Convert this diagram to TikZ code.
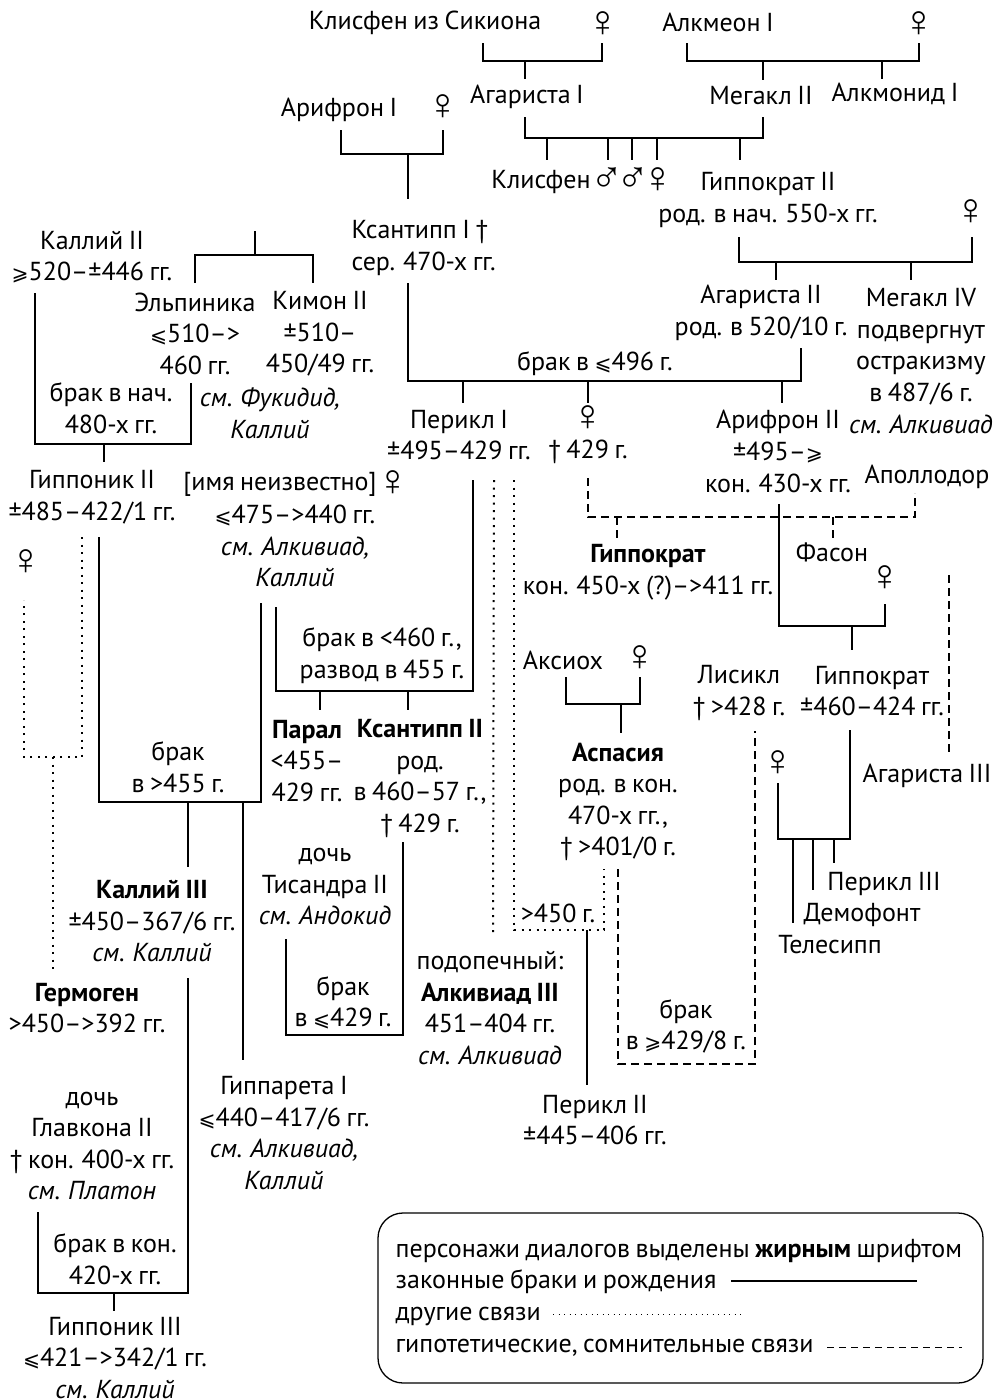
\documentclass[tikz,border=0pt]{standalone}
\usepackage{fontspec}
\setmainfont[WordSpace=0.8]{PT Sans}
\newfontfamily\symf[Scale=1.7]{Liberation Sans}
\newfontfamily\slf[Scale=0.78]{DejaVu Sans}
\newcommand{\fem}{{\symf ♀}}
\newcommand{\mal}{{\symf ♂}}
\newcommand{\lesl}{{\slf ⩽}}
\newcommand{\gesl}{{\slf ⩾}}
\tikzset{
    txt/.style={inner sep=0pt, align=center, font=\fontsize{26}{31.6}\selectfont},
    other/.style={line width=2pt, dash pattern=on 2pt off 5.5pt},
    doubt/.style={dash pattern=on 8pt off 5pt}
}

\begin{document}
\begin{tikzpicture}[x=1pt,y=-1pt,line width=1.3pt]
    \useasboundingbox (0,0) rectangle (996,1400);
    % top rows
    \node[txt] (klisS) at (425,23) {Клисфен из Сикиона};
    \node[txt] (klisF) at (603,24) {\fem};
    \node[txt] (alkmS) at (718,22) {Алкмеон I};
    \node[txt] (alkmF) at (919,24) {\fem};
    \node[txt] (agar1) at (527,97) {Агариста I};
    \node[txt] (meg2) at (761,96) {Мегакл II};
    \node[txt] (almd) at (895,94) {Алкмонид I};
    \node[txt] (arif1) at (339,110) {Арифрон I};
    \node[txt] (arifF) at (443,107) {\fem};
    \node[txt] (klis) at (541,182) {Клисфен};
    \node[txt] (sonA) at (607,180) {\mal};
    \node[txt] (sonB) at (633,180) {\mal};
    \node[txt] (dauA) at (658,180) {\fem};
    \node[txt] (hip2) at (768,200) {Гиппократ II\\род. в нач. 550-х гг.};
    \node[txt] (hip2F) at (971,212) {\fem};
    \node[txt,align=left,anchor=west] (ksa1) at (351,248) {Ксантипп I †\\сер. 470-х гг.};
    \node[txt] (kal2) at (92,257) {Каллий II\\\gesl520–±446 гг.};
    \node[txt] (elp) at (195,333.5) {Эльпиника\\\lesl510–>\\460 гг.};
    \node[txt] (kim) at (320,334) {Кимон II\\±510–\\450/49 гг.};
    \node[txt] (seeA) at (270,413) {\itshape см. Фукидид,\\\itshape Каллий};
    \node[txt] (marA) at (111,408) {брак в нач.\\480-х гг.};
    \node[txt] (agar2) at (761,313) {Агариста II\\род. в 520/10 г.};
    \node[txt] (meg4) at (921,361) {Мегакл IV\\подвергнут\\остракизму\\в 487/6 г.\\\itshape см. Алкивиад};
    \node[txt] (marB) at (595,364) {брак в \lesl496 г.};
    \node[txt] (peri1) at (459,435) {Перикл I\\±495–429 гг.};
    \node[txt] (dauB) at (588,418) {\fem};
    \node[txt] (deaB) at (588,452) {† 429 г.};
    \node[txt] (arif2) at (778,451.5) {Арифрон II\\±495–\gesl\\кон. 430-х гг.};
    \node[txt] (apol) at (927,477) {Аполлодор};
    \node[txt] (hipn2) at (92,497.5) {Гиппоник II\\±485–422/1 гг.};
    \node[txt] (unkn) at (280,484) {[имя неизвестно]};
    \node[txt] (unknF) at (393,483) {\fem};
    \node[txt] (unknD) at (295,546) {\lesl475–>440 гг.\\\itshape см. Алкивиад,\\\itshape Каллий};
    \node[txt] (hipnF) at (26,562) {\fem};
    \node[txt] (hipk) at (648,572) {\bfseries Гиппократ\\кон. 450-х (?)–>411 гг.};
    \node[txt] (fas) at (832,552) {Фасон};
    \node[txt] (fasF) at (885,578) {\fem};
    \node[txt] (marC) at (382,655.5) {брак в <460 г.,\\развод в 455 г.};
    \node[txt] (aks) at (563,660) {Аксиох};
    \node[txt] (aksF) at (640,658) {\fem};
    \node[txt] (lis) at (739,693) {Лисикл\\† >428 г.};
    \node[txt] (hip3) at (872,691) {Гиппократ\\±460–424 гг.};
    % middle
    \node[txt] (par) at (307,761) {\bfseries Парал\\<455–\\429 гг.};
    \node[txt] (ksa2) at (420,778.5) {\bfseries Ксантипп II\\род.\\в 460–57 г.,\\† 429 г.};
    \node[txt] (asp) at (618,802) {\bfseries Аспасия\\род. в кон.\\470-х гг.,\\† >401/0 г.};
    \node[txt] (marD) at (178,767.5) {брак\\в >455 г.};
    \node[txt] (hip3F) at (778,763) {\fem};
    \node[txt] (agar3) at (927,776) {Агариста III};
    \node[txt] (peri3) at (884,884) {Перикл III};
    \node[txt] (dem) at (862,915) {Демофонт};
    \node[txt] (tel) at (830,945) {Телесипп};
    \node[txt] (tis) at (325,886.5) {дочь\\Тисандра II\\\itshape см. Андокид};
    \node[txt] (kal3) at (152,921) {\bfseries Каллий III\\±450–367/6 гг.\\\itshape см. Каллий};
    \node[txt] (marE) at (558,913) {>450 г.};
    \node[txt] (alk) at (490,1008) {подопечный:\\\bfseries Алкивиад III\\451–404 гг.\\\itshape см. Алкивиад};
    \node[txt] (marF) at (343,1003) {брак\\в \lesl429 г.};
    \node[txt] (herm) at (87,1008) {\bfseries Гермоген\\>450–>392 гг.};
    \node[txt] (marG) at (686,1026.5) {брак\\в \gesl429/8 г.};
    % bottom
    \node[txt] (glav) at (92,1146) {дочь\\Главкона II\\† кон. 400-х гг.\\\itshape см. Платон};
    \node[txt] (hipr) at (284,1133) {Гиппарета I\\\lesl440–417/6 гг.\\\itshape см. Алкивиад,\\\itshape Каллий};
    \node[txt] (peri2) at (595,1120) {Перикл II\\±445–406 гг.};
    \node[txt] (marH) at (115,1259) {брак в кон.\\420-х гг.};
    \node[txt] (hipn3) at (115,1358) {Гиппоник III\\\lesl421–>342/1 гг.\\\itshape см. Каллий};

    % ends of the connectors
    \foreach \n/\x/\y in {aL/483/43,aR/602/43,aJ/525/61,aC/525/79,
        bL/687/43,bR/919/43,bJ/763/61,bC/763/80,bD/882/79,
        cL/525/117,cR/763/117,cJ/740/138,
        dL/341/130,dR/443/130,dJ/408/154,dC/408/199,
        eL/408/283,eR/801/348,eJ/588/381,
        fL/739/237,fR/972/237,fJ/776/262,fC/776/280,fD/911/280,
        gT/255/231,gJ/255/255,gL/195/283,gR/313/283,
        hL/35/293,hR/191/383,hJ/104/444,hC/104/462,
        iL/99/537,iR/261/603,iJ/188/802,iC/188/867,iD/243/1060,
        jL/276/607,jR/473/480,jJ/320/691,jC/320/710,jD/408/710,
        kL/566/677,kR/640/677,kJ/621/704,kC/621/733,
        lL/779/504,lR/885/604,lJ/852/626,lC/852/650,
        mL/778/783,mR/850/730,mJ/813/839,mA/834/863,mB/813/890,mC/793/923,
        nL/286/939,nR/403/842,nJ/340/1035,
        oL/38/1212,oR/188/978,oJ/114/1293,oC/114/1311,
        pT/82/537,pL/24/600,pJ/53/757,pC/53/970,
        qA/494/480,qB/493/933,rA/514/480,rB/604/869,rJ/587/930,rC/587/1085,
        sL/588/478,sR/915/493,sJ/617/517,sC/617/538,sD/833/538,
        uL/618/869,uR/755/731,uJ/686/1064,vA/949/575,vB/949/755}
        \coordinate (\n) at (\x,\y);

    \draw (aL) |- (aJ) -| (aR) (aJ) -- (aC);
    \draw (bL) |- (bJ) -| (bR) (bJ) -- (bC) (bD |- bJ) -- (bD);
    \draw (cL) |- (cJ) -| (cR);
    \foreach \x in {547,608,632,657,740}
        \draw (\x,138) -- (\x,160);
    \draw (dL) |- (dJ) -| (dR) (dJ) -- (dC);
    \draw (eL) |- (eJ) -| (eR);
    \foreach \x in {463,588,782}
        \draw (\x,381) -- (\x,403);
    \draw (fL) |- (fJ) -| (fR) (fJ) -- (fC) (fD |- fJ) -- (fD);
    \draw (gT) -- (gJ) (gL) |- (gJ) -| (gR);
    \draw (hL) |- (hJ) -| (hR) (hJ) -- (hC);
    \draw (iL) |- (iJ) -| (iR) (iJ) -- (iC) (iD |- iJ) -- (iD);
    \draw (jL) |- (jJ) -| (jR) (jJ) -- (jC) (jD |- jJ) -- (jD);
    \draw (kL) |- (kJ) -| (kR) (kJ) -- (kC);
    \draw (lL) |- (lJ) -| (lR) (lJ) -- (lC);
    \draw (mL) |- (mJ) -| (mR) (mA |- mJ) -- (mA) (mJ) -- (mB) (mC |- mJ) -- (mC);
    \draw (nL) |- (nJ) -| (nR);
    \draw (oL) |- (oJ) -| (oR) (oJ) -- (oC);
    \draw (rJ) -- (rC);
    % dotted and dashed links
    \draw[other] (pT) |- (pJ) -| (pL);
    \draw[other] (pJ) -- (pC);
    \draw[other] (qA) -- (qB);
    \draw[other] (rA) |- (rJ) -| (rB);
    \draw[doubt] (sL) |- (sJ) -| (sR);
    \draw[doubt] (sJ) -- (sC);
    \draw[doubt] (sD |- sJ) -- (sD);
    \draw[doubt] (uL) |- (uJ) -| (uR);
    \draw[doubt] (vA) -- (vB);

    % key
    \node[draw,rounded corners=25pt,minimum width=605pt,minimum height=170pt] (key) at (680.5,1298) {};
    \foreach \n/\y/\t in {keyA/1257/{персонажи диалогов выделены \textbf{жирным} шрифтом},
        keyB/1288/{законные браки и рождения},keyC/1320/{другие связи},
        keyD/1352/{гипотетические, сомнительные связи}}
        \node[txt,anchor=base west] (\n) at (395,\y) {\t};
    \coordinate (lawA) at (731,1281);
    \coordinate (lawB) at (917,1281);
    \coordinate (othA) at (553,1314);
    \coordinate (othB) at (743,1314);
    \coordinate (douA) at (827,1347);
    \coordinate (douB) at (962,1347);
    \draw (lawA) -- (lawB);
    \draw[line width=1pt,dash pattern=on 1pt off 4.5pt] (othA) -- (othB);
    \draw[line width=1pt,dash pattern=on 7pt off 5pt] (douA) -- (douB);
\end{tikzpicture}
\end{document}
